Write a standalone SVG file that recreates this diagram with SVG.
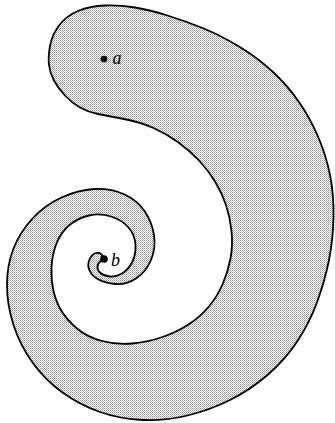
<svg xmlns="http://www.w3.org/2000/svg" width="335" height="423" viewBox="0 0 335 423">
  <style>
    .shape { fill: url(#stipple); stroke: #000; stroke-width: 1.8; stroke-linejoin: round; }
    .pt { fill: #000; }
    .lbl { font-family: "Liberation Serif", "DejaVu Serif", serif; font-style: italic; font-size: 18px; fill: #000; }
  </style>
  <defs>
    <pattern id="stipple" width="2" height="2" patternUnits="userSpaceOnUse">
      <rect width="2" height="2" fill="#fff"/>
      <rect width="1" height="1" fill="#909090"/>
      <rect x="1" y="1" width="1" height="1" fill="#b8b8b8"/>
    </pattern>
  </defs>
  <rect width="335" height="423" fill="#fff"/>
  <g id="spiral">
    <path class="shape" d="M 49,65 Q 48,57 50,46 Q 52,35 59,25.5 Q 66,16 78,11 Q 90,6 105,5.5 Q 120,5 135,7.5 Q 150,10 167.5,15.5 Q 185,21 202.5,28 Q 220,35 239,46.5 Q 258,58 273,72 Q 288,86 299,102 Q 310,118 318,136.5 Q 326,155 330,175 Q 334,195 333.5,217.5 Q 333,240 329,260 Q 325,280 317.5,301 Q 310,322 297.5,341 Q 285,360 267.5,375 Q 250,390 230,400 Q 210,410 187.5,415.5 Q 165,421 142.5,420 Q 120,419 100,412 Q 80,405 62.5,392.5 Q 45,380 32.5,362.5 Q 20,345 13.5,325 Q 7,305 7,285 Q 7,265 13.5,248.5 Q 20,232 32.5,218.5 Q 45,205 61.5,197.5 Q 78,190 94,189 Q 110,188 123.5,194 Q 137,200 144.5,211 Q 152,222 154,235 Q 156,248 151,260 Q 146,272 136,278.5 Q 126,285 115.5,284 Q 105,283 98.5,279.5 Q 92,276 89.5,270.5 Q 87,265 89.5,259.5 Q 92,254 96,253 Q 100,252 102,255 Q 104,258 101,260.5 Q 98,263 97.5,266.5 Q 97,270 100.5,273 Q 104,276 110,276.5 Q 116,277 122,273.5 Q 128,270 132,262.5 Q 136,255 135.5,245 Q 135,235 128.5,227.5 Q 122,220 111,216.5 Q 100,213 89,215.5 Q 78,218 69.5,225 Q 61,232 56.5,243.5 Q 52,255 51.5,267.5 Q 51,280 53.5,291 Q 56,302 61.5,311 Q 67,320 77,328.5 Q 87,337 102,341 Q 117,345 132.5,343.5 Q 148,342 162.5,337 Q 177,332 188.5,324.5 Q 200,317 208.5,307 Q 217,297 222.5,284.5 Q 228,272 230.5,258.5 Q 233,245 231.5,231 Q 230,217 226,205 Q 222,193 215,181.5 Q 208,170 199,160.5 Q 190,151 178.5,142.5 Q 167,134 153.5,128 Q 140,122 124,119 Q 108,116 98,114 Q 88,112 80,107.5 Q 72,103 65,95.5 Q 58,88 54,80.5 Q 50,73 49,65 Z"/>
  </g>
  <g id="point-a">
    <circle class="pt" cx="104" cy="59" r="3.3"/>
    <text class="lbl" x="112.5" y="64">a</text>
  </g>
  <g id="point-b">
    <circle class="pt" cx="104" cy="259" r="3.8"/>
    <text class="lbl" x="111" y="266">b</text>
  </g>
</svg>
